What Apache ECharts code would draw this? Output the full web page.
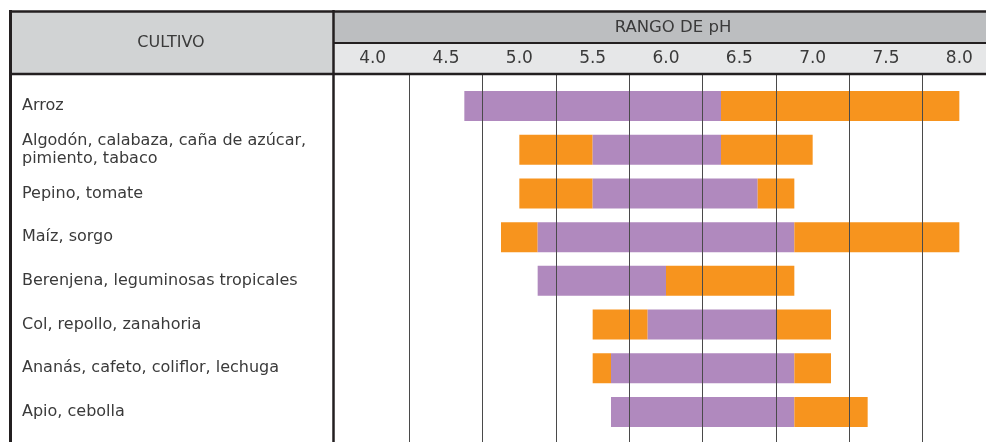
<!DOCTYPE html>
<html>
<head>
<meta charset="utf-8">
<script src="https://cdn.jsdelivr.net/npm/echarts@6/dist/echarts.min.js"></script>
<style>
  html, body { margin: 0; padding: 0; background: #fff; overflow: hidden; }
  /* the table runs a little past the right edge of the window */
  #chart { width: 1000px; height: 442px; }
</style>
</head>
<body>
<div id="chart"></div>
<script>
// Crops, top to bottom
const crops = [
  'Arroz',
  'Algodón, calabaza, caña de azúcar,\npimiento, tabaco',
  'Pepino, tomate',
  'Maíz, sorgo',
  'Berenjena, leguminosas tropicales',
  'Col, repollo, zanahoria',
  'Ananás, cafeto, coliflor, lechuga',
  'Apio, cebolla'
];

// pH header cells
const phTicks = ['4.0', '4.5', '5.0', '5.5', '6.0', '6.5', '7.0', '7.5', '8.0'];

// pH limits per crop: tolerated low end, optimum range, tolerated high end
const toleratedMin = [4.625, 5.0, 5.0, 4.875, 5.125, 5.5, 5.5, 5.625];
const optimumMin   = [4.625, 5.5, 5.5, 5.125, 5.125, 5.875, 5.625, 5.625];
const optimumMax   = [6.375, 6.375, 6.625, 6.875, 6.0, 6.75, 6.875, 6.875];
const toleratedMax = [8.0, 7.0, 6.875, 8.0, 6.875, 7.125, 7.125, 7.375];

const FONT = 'DejaVu Sans';
const TEXT = '#3a3a3a';
const RULE = '#4a4a4a';
const ORANGE = '#f7941e';
const PURPLE = '#b089be';

const base = toleratedMin;
const lowBand = optimumMin.map((v, i) => +(v - toleratedMin[i]).toFixed(4));
const optBand = optimumMax.map((v, i) => +(v - optimumMin[i]).toFixed(4));
const highBand = toleratedMax.map((v, i) => +(v - optimumMax[i]).toFixed(4));

const chart = echarts.init(document.getElementById('chart'), null, { renderer: 'canvas' });

const segment = (name, data, color) => ({
  name, type: 'bar', stack: 'range', xAxisIndex: 1, yAxisIndex: 1,
  data, barWidth: 30, itemStyle: { color }, silent: true, z: 2
});

// the first column rule coincides with the frame divider, so skip it
const afterFirst = (index) => index > 0;

chart.setOption({
  animation: false,
  backgroundColor: '#ffffff',
  textStyle: { fontFamily: FONT },
  grid: [
    // header cells and column rules
    { left: 336, width: 660, top: 74, height: 400 },
    // bars
    { left: 336, width: 660, top: 84.2, height: 349.6 }
  ],
  xAxis: [
    {
      type: 'category', gridIndex: 0, position: 'top', data: phTicks,
      boundaryGap: true, z: 5,
      axisLine: { show: false },
      axisTick: { show: true, length: 31, interval: afterFirst, lineStyle: { color: RULE, width: 1 } },
      axisLabel: { interval: 0, margin: 15, verticalAlign: 'middle', fontSize: 17, color: TEXT, fontFamily: FONT },
      splitLine: { show: true, interval: afterFirst, lineStyle: { color: RULE, width: 1 } }
    },
    {
      type: 'value', gridIndex: 1, min: 3.75, max: 8.25,
      show: false, splitLine: { show: false }
    }
  ],
  yAxis: [
    { type: 'value', gridIndex: 0, show: false, splitLine: { show: false } },
    {
      type: 'category', gridIndex: 1, data: crops, inverse: true,
      axisLine: { show: false }, axisTick: { show: false }, splitLine: { show: false },
      axisLabel: { interval: 0, align: 'left', margin: 314, fontSize: 16, lineHeight: 18.5, color: TEXT, fontFamily: FONT }
    }
  ],
  series: [
    segment('base', base, 'rgba(0,0,0,0)'),
    segment('tolerable bajo', lowBand, ORANGE),
    segment('óptimo', optBand, PURPLE),
    segment('tolerable alto', highBand, ORANGE)
  ],
  graphic: [
    // header fills
    { type: 'rect', z: 0, shape: { x: 10, y: 11, width: 323, height: 63 }, style: { fill: '#d1d3d4' } },
    { type: 'rect', z: 0, shape: { x: 333, y: 11, width: 667, height: 32 }, style: { fill: '#bcbec0' } },
    { type: 'rect', z: 0, shape: { x: 333, y: 43, width: 667, height: 31 }, style: { fill: '#e6e7e8' } },
    // header titles
    { type: 'text', z: 1, x: 171, y: 43, style: { text: 'CULTIVO', font: '16px "DejaVu Sans"', fill: TEXT, textAlign: 'center', textVerticalAlign: 'middle' } },
    { type: 'text', z: 1, x: 673, y: 28, style: { text: 'RANGO DE pH', font: '16.5px "DejaVu Sans"', fill: TEXT, textAlign: 'center', textVerticalAlign: 'middle' } },
    // table frame
    { type: 'line', z: 10, shape: { x1: 9, y1: 11.5, x2: 1000, y2: 11.5 }, style: { stroke: '#231f20', lineWidth: 2.5 } },
    { type: 'line', z: 10, shape: { x1: 10.5, y1: 10, x2: 10.5, y2: 442 }, style: { stroke: '#231f20', lineWidth: 3 } },
    { type: 'line', z: 10, shape: { x1: 333.5, y1: 10, x2: 333.5, y2: 442 }, style: { stroke: '#231f20', lineWidth: 2.5 } },
    { type: 'line', z: 10, shape: { x1: 333, y1: 43, x2: 1000, y2: 43 }, style: { stroke: '#231f20', lineWidth: 2 } },
    { type: 'line', z: 10, shape: { x1: 9, y1: 74, x2: 1000, y2: 74 }, style: { stroke: '#231f20', lineWidth: 2.5 } }
  ]
});
</script>
</body>
</html>
